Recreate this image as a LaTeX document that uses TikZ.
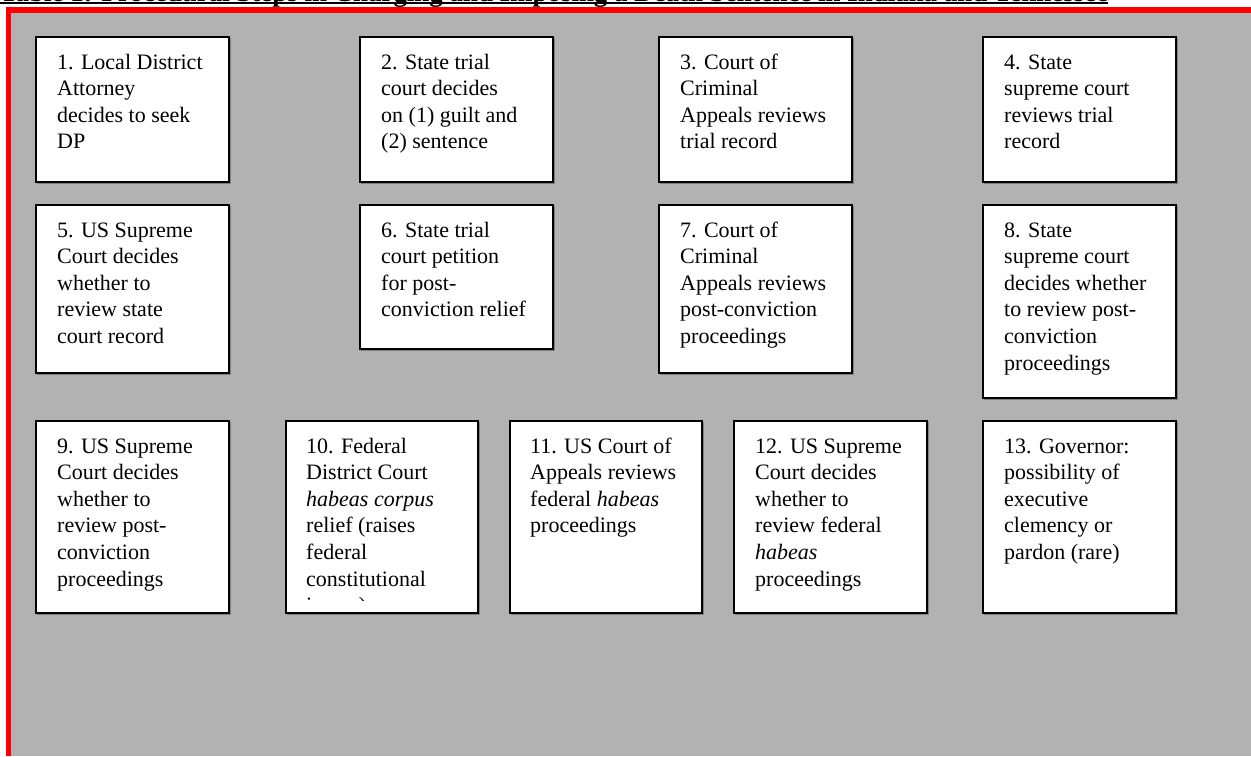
\documentclass[tikz,border=0pt]{standalone}
\usepackage{fontspec}
\setmainfont{Liberation Serif}
\usepackage{graphicx}
\tikzset{
  stepbox/.style={draw=black, line width=1.4pt, fill=white, anchor=north west,
    inner sep=0pt, outer sep=0pt, minimum width=193pt,
    preaction={draw=black!50, line width=1.4pt, transform canvas={shift={(1.3,1.3)}}}},
  steptext/.style={anchor=base west, inner sep=0pt, xshift=21pt, yshift=-32pt,
    font=\fontsize{22}{26.6}\selectfont},
}
\newcommand{\stxt}[1]{\parbox[t]{178pt}{\raggedright #1}}
\begin{document}
\begin{tikzpicture}[x=1pt,y=-1pt]
\useasboundingbox (0,0) rectangle (1251,756);
\clip (0,0) rectangle (1251,756);
\fill[white] (0,0) rectangle (1251,756);
% frame
\fill[red] (6,7) rectangle (1251,756);
\fill[black!30] (11,13) rectangle (1251,756);
% title (cut off at top)
\node[anchor=base west, inner sep=0pt] (title) at (0,1.6)
  {\resizebox{1108pt}{!}{\bfseries Table 1: Procedural Steps in Charging and Imposing a Death Sentence in Indiana and Tennessee}};
\draw[line width=1.6pt] (title.base west) ++(0,1.5) -- ++(1108,0);
% row 1
\node[stepbox, minimum height=145pt] (b1) at (36,37) {};
\node[stepbox, minimum height=145pt] (b2) at (360,37) {};
\node[stepbox, minimum height=145pt] (b3) at (659,37) {};
\node[stepbox, minimum height=145pt] (b4) at (983,37) {};
% row 2
\node[stepbox, minimum height=168pt] (b5) at (36,205) {};
\node[stepbox, minimum height=144pt] (b6) at (360,205) {};
\node[stepbox, minimum height=168pt] (b7) at (659,205) {};
\node[stepbox, minimum height=193pt] (b8) at (983,205) {};
% row 3
\node[stepbox, minimum height=192pt] (b9) at (36,421) {};
\node[stepbox, minimum height=192pt, minimum width=192pt] (b10) at (286,421) {};
\node[stepbox, minimum height=192pt, minimum width=192pt] (b11) at (510,421) {};
\node[stepbox, minimum height=192pt] (b12) at (734,421) {};
\node[stepbox, minimum height=192pt] (b13) at (983,421) {};
% texts
\node[steptext] (t1) at (b1.north west) {\stxt{1. Local District\\Attorney\\decides to seek\\DP}};
\node[steptext] (t2) at (b2.north west) {\stxt{2. State trial\\court decides\\on (1) guilt and\\(2) sentence}};
\node[steptext] (t3) at (b3.north west) {\stxt{3. Court of\\Criminal\\Appeals reviews\\trial record}};
\node[steptext] (t4) at (b4.north west) {\stxt{4. State\\supreme court\\reviews trial\\record}};
\node[steptext] (t5) at (b5.north west) {\stxt{5. US Supreme\\Court decides\\whether to\\review state\\court record}};
\node[steptext] (t6) at (b6.north west) {\stxt{6. State trial\\court petition\\for post-\\conviction relief}};
\node[steptext] (t7) at (b7.north west) {\stxt{7. Court of\\Criminal\\Appeals reviews\\post-conviction\\proceedings}};
\node[steptext] (t8) at (b8.north west) {\stxt{8. State\\supreme court\\decides whether\\to review post-\\conviction\\proceedings}};
\node[steptext] (t9) at (b9.north west) {\stxt{9. US Supreme\\Court decides\\whether to\\review post-\\conviction\\proceedings}};
\begin{scope}
\clip (286,421) rectangle (478,600.5);
\node[steptext, xshift=-1pt] (t10) at (b10.north west) {\stxt{10. Federal\\District Court\\\textit{habeas corpus}\\relief (raises\\federal\\constitutional\\issues)}};
\end{scope}
\node[steptext, xshift=-1pt] (t11) at (b11.north west) {\stxt{11. US Court of\\Appeals reviews\\federal \textit{habeas}\\proceedings}};
\node[steptext] (t12) at (b12.north west) {\stxt{12. US Supreme\\Court decides\\whether to\\review federal\\\textit{habeas}\\proceedings}};
\node[steptext] (t13) at (b13.north west) {\stxt{13. Governor:\\possibility of\\executive\\clemency or\\pardon (rare)}};
\end{tikzpicture}
\end{document}
